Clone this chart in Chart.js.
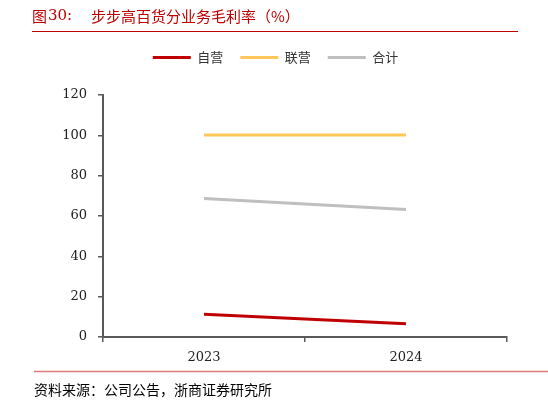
<!DOCTYPE html>
<html>
<head>
<meta charset="utf-8">
<script src="https://cdn.jsdelivr.net/npm/chart.js@4/dist/chart.umd.min.js"></script>
<style>
  html,body{margin:0;padding:0;background:#fff;}
  #wrap{position:relative;width:548px;height:402px;}
</style>
</head>
<body>
<div id="wrap"><canvas id="c" width="548" height="402"></canvas></div>
<script>
const years = ['2023', '2024'];
const ziying = [11.3, 6.6];
const lianying = [100.2, 100.2];
const heji = [68.7, 63.2];
const yTicks = [0, 20, 40, 60, 80, 100, 120];

const titleText = '步步高百货分业务毛利率（%）';
const sourceText = '资料来源：公司公告，浙商证券研究所';

const serif = '"DejaVu Serif", serif';
const cjk = '"Noto Sans CJK SC", "Noto Sans", sans-serif';

// title, rules and source note; also push the plot down below the legend
const frame = {
  id: 'frame',
  afterInit(chart){
    const lg = chart.legend;
    if(!lg) return;
    const fit = lg.fit, draw = lg.draw;
    lg.fit = function(){ fit.call(this); this.height += 21; };
    lg.draw = function(){
      this.ctx.save();
      this.ctx.translate(22, 0);
      draw.call(this);
      this.ctx.restore();
    };
  },
  beforeDraw(chart){
    const ctx = chart.ctx;
    ctx.save();
    ctx.fillStyle = '#c00000';
    ctx.textBaseline = 'middle';
    ctx.font = '15px ' + cjk;
    ctx.fillText('图', 32, 16);
    ctx.font = '15px ' + serif;
    ctx.fillText('30:', 48, 16);
    ctx.font = '15px ' + cjk;
    ctx.fillText(titleText, 91, 16);
    ctx.strokeStyle = '#c00000';
    ctx.lineWidth = 1;
    ctx.beginPath(); ctx.moveTo(32, 31.5); ctx.lineTo(518, 31.5); ctx.stroke();
    ctx.strokeStyle = '#e07a7a';
    ctx.lineWidth = 1.5;
    ctx.beginPath(); ctx.moveTo(34, 371.5); ctx.lineTo(548, 371.5); ctx.stroke();
    ctx.fillStyle = '#000';
    ctx.font = '14px ' + cjk;
    ctx.fillText(sourceText, 34, 390);
    ctx.restore();
  }
};

new Chart(document.getElementById('c'), {
  type: 'line',
  data: {
    labels: years,
    datasets: [
      {label:'自营', data: ziying, borderColor:'#c00000', backgroundColor:'#c00000'},
      {label:'联营', data: lianying, borderColor:'#ffc65a', backgroundColor:'#ffc65a'},
      {label:'合计', data: heji, borderColor:'#bfbfbf', backgroundColor:'#bfbfbf'}
    ].map(d => Object.assign(d, {borderWidth:3, pointRadius:0, pointStyle:'line', tension:0}))
  },
  options: {
    responsive: false,
    animation: false,
    devicePixelRatio: 1,
    layout: { padding: { top: 34, left: 0, right: 41, bottom: 30 } },
    plugins: {
      legend: {
        position: 'top',
        labels: {
          usePointStyle: true,
          pointStyleWidth: 38,
          boxHeight: 10,
          padding: 17,
          color: '#333',
          font: { family: cjk, size: 13 }
        }
      },
      tooltip: { enabled: false }
    },
    scales: {
      x: {
        offset: true,
        grid: { offset: true, drawOnChartArea: false, drawTicks: true, tickLength: 5, color: '#595959', lineWidth: 1.5 },
        border: { display: true, color: '#595959', width: 2 },
        ticks: { color: '#222', padding: 8, font: { family: serif, size: 13 } },
        afterFit(s){ s.height = 35; }
      },
      y: {
        min: 0, max: 120,
        afterBuildTicks(s){ s.ticks = yTicks.map(v => ({value: v})); },
        grid: { drawOnChartArea: false, drawTicks: true, tickLength: 5, color: '#595959', lineWidth: 1.5 },
        border: { display: true, color: '#595959', width: 2 },
        ticks: { color: '#222', padding: 11, font: { family: serif, size: 13 } },
        afterFit(s){ s.width = 103; }
      }
    }
  },
  plugins: [frame]
});
</script>
</body>
</html>
